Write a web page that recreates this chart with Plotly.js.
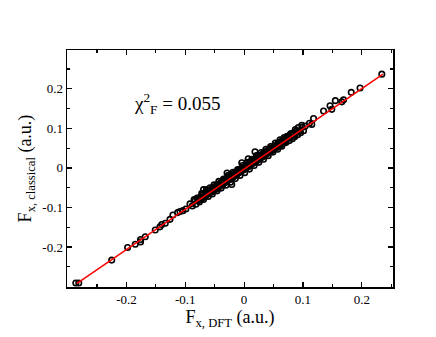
<!DOCTYPE html>
<html>
<head>
<meta charset="utf-8">
<script src="https://cdn.plot.ly/plotly-3.0.1.min.js"></script>
<style>html,body{margin:0;padding:0;background:#fff;}#chart{width:436px;height:337px;}</style>
</head>
<body>
<div id="chart"></div>
<script>
// Sparse points (outliers)
const xSparse = [-0.286,-0.281,-0.225,-0.198,-0.185,-0.176,-0.176,-0.168,-0.151,-0.143,-0.140,-0.134,-0.126,-0.121,-0.113,-0.109,-0.104,-0.099,-0.092,-0.083,-0.080,-0.069,-0.029,-0.021,-0.004,0.007,0.0185,0.073,0.081,0.087,0.092,0.098,0.111,0.115,0.118,0.135,0.146,0.149,0.155,0.166,0.169,0.182,0.197,0.234];
const ySparse = [-0.291,-0.291,-0.233,-0.201,-0.193,-0.187,-0.181,-0.174,-0.157,-0.149,-0.143,-0.140,-0.130,-0.119,-0.113,-0.110,-0.108,-0.104,-0.091,-0.082,-0.076,-0.055,-0.013,-0.042,0.013,0.023,0.041,0.080,0.087,0.097,0.102,0.108,0.113,0.110,0.125,0.144,0.157,0.148,0.170,0.167,0.172,0.191,0.202,0.237];
// Dense cloud near the diagonal
const xCloud = [-0.078,-0.075,-0.073,-0.071,-0.070,-0.068,-0.066,-0.065,-0.063,-0.062,-0.060,-0.059,-0.057,-0.056,-0.055,-0.053,-0.052,-0.050,-0.049,-0.048,-0.047,-0.045,-0.044,-0.043,-0.042,-0.041,-0.040,-0.039,-0.038,-0.037,-0.036,-0.035,-0.034,-0.033,-0.032,-0.031,-0.030,-0.029,-0.028,-0.027,-0.026,-0.025,-0.024,-0.023,-0.022,-0.021,-0.020,-0.019,-0.018,-0.017,-0.016,-0.015,-0.014,-0.013,-0.012,-0.011,-0.010,-0.009,-0.008,-0.007,-0.006,-0.005,-0.004,-0.003,-0.002,-0.001,0.000,0.001,0.002,0.003,0.004,0.005,0.006,0.007,0.008,0.009,0.010,0.011,0.012,0.013,0.014,0.015,0.016,0.017,0.018,0.019,0.020,0.021,0.022,0.023,0.024,0.025,0.026,0.027,0.028,0.029,0.030,0.031,0.032,0.033,0.034,0.035,0.036,0.037,0.038,0.039,0.040,0.041,0.042,0.043,0.044,0.045,0.046,0.047,0.048,0.049,0.050,0.051,0.052,0.053,0.054,0.055,0.056,0.057,0.058,0.060,0.061,0.063,0.064,0.066,0.067,0.069,0.070];
const yCloud = [-0.083,-0.074,-0.079,-0.068,-0.075,-0.072,-0.063,-0.070,-0.066,-0.060,-0.064,-0.058,-0.062,-0.055,-0.060,-0.051,-0.057,-0.049,-0.054,-0.046,-0.052,-0.043,-0.049,-0.047,-0.040,-0.045,-0.038,-0.043,-0.040,-0.035,-0.041,-0.033,-0.038,-0.032,-0.036,-0.029,-0.034,-0.027,-0.031,-0.025,-0.030,-0.024,-0.027,-0.021,-0.026,-0.019,-0.024,-0.017,-0.021,-0.016,-0.019,-0.013,-0.018,-0.011,-0.015,-0.009,-0.013,-0.007,-0.011,-0.005,-0.009,-0.003,-0.007,-0.001,-0.005,0.001,-0.003,0.003,-0.001,0.005,0.001,0.007,0.003,0.009,0.005,0.011,0.007,0.013,0.009,0.015,0.011,0.017,0.013,0.019,0.015,0.021,0.017,0.023,0.019,0.025,0.021,0.027,0.023,0.029,0.025,0.031,0.027,0.034,0.029,0.036,0.031,0.038,0.033,0.040,0.035,0.042,0.037,0.044,0.039,0.046,0.041,0.048,0.043,0.050,0.046,0.052,0.047,0.054,0.049,0.056,0.051,0.058,0.053,0.060,0.055,0.062,0.057,0.065,0.060,0.067,0.063,0.070,0.067];
// Wider scatter around the cloud (above and below the diagonal)
const xSpread = [-0.088,-0.085,-0.082,-0.079,-0.076,-0.072,-0.069,-0.064,-0.061,-0.058,-0.054,-0.051,-0.046,-0.043,-0.039,-0.035,-0.031,-0.027,-0.023,-0.019,-0.015,-0.011,-0.007,-0.003,0.001,0.005,0.009,0.013,0.017,0.021,0.025,0.029,0.033,0.037,0.041,0.045,0.049,0.053,0.057,0.061,0.064,0.068,0.071,0.074,0.077,0.079,0.082,0.084,0.086,0.089,0.091,0.094,0.096,0.099,0.101,0.104];
const ySpread = [-0.096,-0.080,-0.092,-0.077,-0.086,-0.064,-0.080,-0.055,-0.072,-0.050,-0.066,-0.043,-0.058,-0.034,-0.051,-0.028,-0.044,-0.019,-0.036,-0.011,-0.027,-0.004,-0.019,0.006,-0.012,0.014,-0.003,0.022,0.006,0.031,0.014,0.039,0.022,0.047,0.031,0.054,0.040,0.063,0.047,0.071,0.055,0.077,0.064,0.080,0.069,0.086,0.074,0.089,0.079,0.094,0.084,0.093,0.089,0.103,0.094,0.106];
// Extra fill of the densest part of the band
const xFill = [-0.074,-0.067,-0.061,-0.054,-0.048,-0.042,-0.036,-0.030,-0.024,-0.018,-0.012,-0.006,0.000,0.006,0.012,0.018,0.024,0.030,0.036,0.042,0.048,0.054,0.060,0.066,0.072,0.078,0.084,-0.071,-0.064,-0.058,-0.051,-0.045,-0.039,-0.033,-0.027,-0.021,-0.015,-0.009,-0.003,0.003,0.009,0.015,0.021,0.027,0.033,0.039,0.045,0.051,0.057,0.063,0.069,0.075,0.081];
const yFill = [-0.080,-0.073,-0.066,-0.059,-0.053,-0.047,-0.040,-0.034,-0.028,-0.022,-0.016,-0.010,-0.004,0.002,0.009,0.015,0.021,0.028,0.034,0.040,0.046,0.052,0.058,0.064,0.071,0.077,0.083,-0.069,-0.061,-0.056,-0.049,-0.043,-0.036,-0.030,-0.023,-0.017,-0.011,-0.005,0.001,0.007,0.013,0.019,0.025,0.031,0.037,0.043,0.049,0.055,0.061,0.067,0.073,0.078,0.084];
// Fit line endpoints
const xFit = [-0.284, 0.236];
const yFit = [-0.292, 0.237];
// Tick labels
const tickVals = [-0.2, -0.1, 0, 0.1, 0.2];
const tickText = ["-0.2", "-0.1", "0", "0.1", "0.2"];
const minorVals = [-0.25, -0.15, -0.05, 0.05, 0.15, 0.25];

const serif = "'Liberation Serif', 'Times New Roman', 'DejaVu Serif', serif";
const marker = {symbol: 'circle-open', size: 5.5, color: '#000', line: {width: 1.6, color: '#000'}};
const traces = [
  {x: xSparse, y: ySparse, type: 'scatter', mode: 'markers', marker: marker, hoverinfo: 'skip'},
  {x: xSpread, y: ySpread, type: 'scatter', mode: 'markers', marker: marker, hoverinfo: 'skip'},
  {x: xCloud, y: yCloud, type: 'scatter', mode: 'markers', marker: marker, hoverinfo: 'skip'},
  {x: xFill, y: yFill, type: 'scatter', mode: 'markers', marker: marker, hoverinfo: 'skip'},
  {x: xFit, y: yFit, type: 'scatter', mode: 'lines', line: {color: '#ff0000', width: 1.5}, hoverinfo: 'skip'}
];
const axisCommon = {
  showgrid: false, zeroline: false, showline: true, linecolor: '#000', linewidth: 1.5,
  mirror: 'ticks', ticks: 'inside', ticklen: 5, tickwidth: 1.2, tickcolor: '#000',
  tickvals: tickVals, ticktext: tickText,
  tickfont: {family: serif, size: 13, color: '#000'},
  minor: {tickvals: minorVals, ticks: 'inside', ticklen: 3, tickwidth: 1.2, tickcolor: '#000', showgrid: false}
};
const layout = {
  width: 436, height: 337,
  margin: {l: 67, r: 43, t: 50, b: 50},
  paper_bgcolor: '#fff', plot_bgcolor: '#fff',
  showlegend: false,
  font: {family: serif, color: '#000'},
  xaxis: Object.assign({}, axisCommon, {
    range: [-0.301, 0.253],
    title: {text: 'F<sub>x, DFT</sub> (a.u.)', font: {family: serif, size: 18, color: '#000'}, standoff: 2}
  }),
  yaxis: Object.assign({}, axisCommon, {
    range: [-0.301, 0.298],
    title: {text: 'F<sub>x, classical</sub> (a.u.)', font: {family: serif, size: 18, color: '#000'}, standoff: 6}
  }),
  annotations: [{
    x: -0.19, y: 0.164, xref: 'x', yref: 'y', xanchor: 'left', yanchor: 'middle', showarrow: false,
    text: 'χ<sup>2</sup><sub>F</sub> = 0.055',
    font: {family: serif, size: 19, color: '#000'}
  }]
};
Plotly.newPlot('chart', traces, layout, {displayModeBar: false, staticPlot: true});
</script>
</body>
</html>
